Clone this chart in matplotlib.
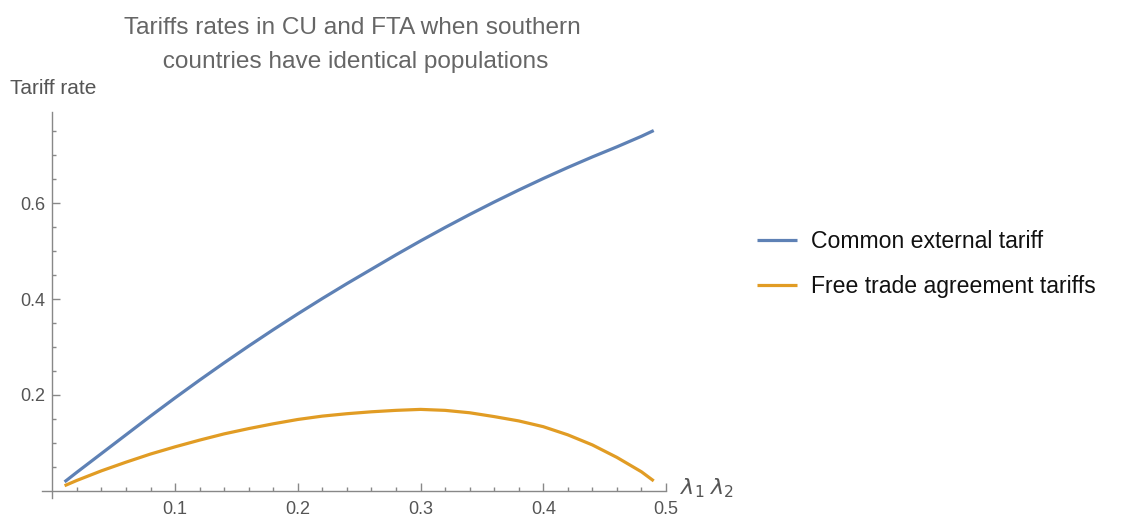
import matplotlib
matplotlib.use("Agg")
import matplotlib.pyplot as plt
from matplotlib.ticker import FixedLocator

plt.rcParams['font.family'] = ['Liberation Sans', 'DejaVu Sans']

# share of population lambda (lambda_1 = lambda_2)
lam = [0.01, 0.02, 0.04, 0.06, 0.08, 0.10, 0.12, 0.14, 0.16, 0.18, 0.20, 0.22, 0.24,
       0.26, 0.28, 0.30, 0.32, 0.34, 0.36, 0.38, 0.40, 0.42, 0.44, 0.46, 0.48, 0.49]

# common external tariff in a customs union
cet = [0.019, 0.039, 0.078, 0.117, 0.156, 0.194, 0.231, 0.267, 0.302, 0.336, 0.369,
       0.401, 0.432, 0.462, 0.492, 0.521, 0.549, 0.576, 0.602, 0.627, 0.651, 0.674,
       0.696, 0.717, 0.739, 0.751]

# tariffs under a free trade agreement
fta = [0.011, 0.022, 0.042, 0.060, 0.077, 0.092, 0.106, 0.119, 0.130, 0.140, 0.149,
       0.156, 0.161, 0.165, 0.168, 0.170, 0.168, 0.163, 0.155, 0.146, 0.134, 0.117,
       0.096, 0.070, 0.040, 0.021]

x_major = [0.1, 0.2, 0.3, 0.4, 0.5]
x_labels = ["0.1", "0.2", "0.3", "0.4", "0.5"]
y_major = [0.2, 0.4, 0.6]
y_labels = ["0.2", "0.4", "0.6"]

series_labels = ["Common external tariff", "Free trade agreement tariffs"]
blue = "#5E81B5"
orange = "#E19C24"
axis_gray = "#888888"
text_gray = "#555555"

W, H = 1131, 517
fig = plt.figure(figsize=(W / 100, H / 100), dpi=100)
ax = fig.add_axes([42 / W, 1 - 498 / H, 624 / W, 386 / H])

l1, = ax.plot(lam, cet, color=blue, lw=2.3, solid_capstyle='butt')
l2, = ax.plot(lam, fta, color=orange, lw=2.3, solid_capstyle='butt')

ax.set_xlim(-0.0084, 0.5)
ax.set_ylim(-0.0146, 0.7896)

for s in ("top", "right"):
    ax.spines[s].set_visible(False)
ax.spines["left"].set_position(("data", 0))
ax.spines["bottom"].set_position(("data", 0))
for s in ("left", "bottom"):
    ax.spines[s].set_color(axis_gray)
    ax.spines[s].set_linewidth(1.0)

ax.xaxis.set_major_locator(FixedLocator(x_major))
ax.set_xticklabels(x_labels)
ax.yaxis.set_major_locator(FixedLocator(y_major))
ax.set_yticklabels(y_labels)
ax.xaxis.set_minor_locator(FixedLocator([i * 0.02 for i in range(1, 25)]))
ax.yaxis.set_minor_locator(FixedLocator([i * 0.05 for i in range(1, 16)]))

ax.tick_params(which="both", direction="in", color=axis_gray, width=1.0,
               labelcolor=text_gray, labelsize=13)
ax.tick_params(which="major", length=6)
ax.tick_params(which="minor", length=3.2)
ax.tick_params(axis="x", pad=7)
ax.tick_params(axis="y", pad=5)

ax.patch.set_visible(False)

fig.text(10 / W, 1 - 88 / H, "Tariff rate", color=text_gray, fontsize=15,
         ha="left", va="center")
fig.text(680 / W, 1 - 488 / H, r"$\lambda_1\;\lambda_2$", color=text_gray,
         fontsize=16, ha="left", va="center")

fig.text(352 / W, 1 - 45 / H,
         "Tariffs rates in CU and FTA when southern\n countries have identical populations",
         color="#666666", fontsize=17.6, ha="center", va="center", linespacing=1.65)

leg = fig.legend([l1, l2], series_labels, loc="center left",
                 bbox_to_anchor=(757 / W, 1 - 264 / H), frameon=False,
                 fontsize=16.6, handlelength=1.74, handletextpad=0.6,
                 labelspacing=0.93, borderaxespad=0, borderpad=0)
for t in leg.get_texts():
    t.set_color("#111111")

fig.savefig("out.png", dpi=100)
